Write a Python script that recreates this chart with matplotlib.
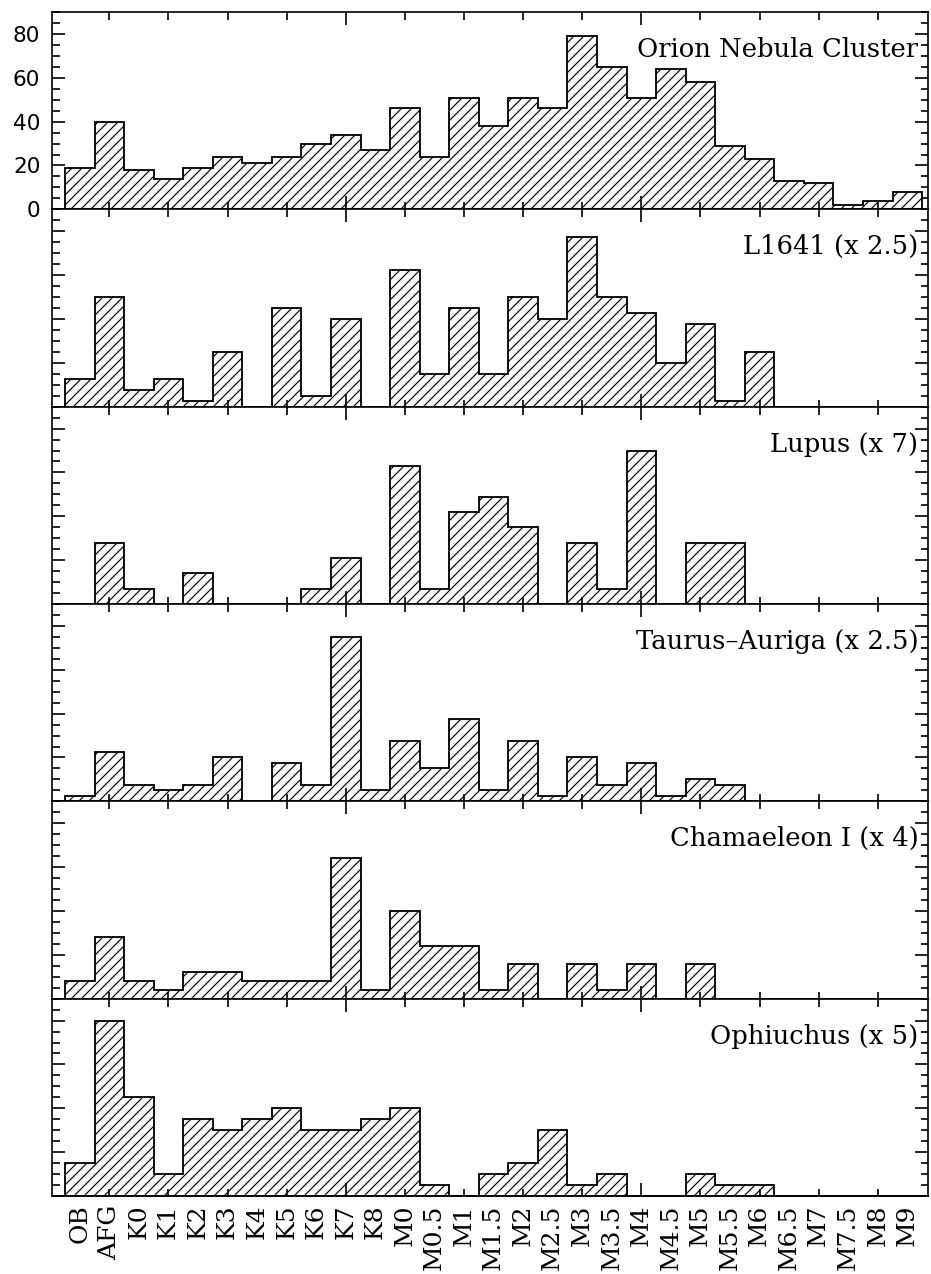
import numpy as np
import matplotlib
matplotlib.use('Agg')
import matplotlib.pyplot as plt
from matplotlib.ticker import FixedLocator, MultipleLocator

#spectral type bins, earliest to latest
spectral_types = ['OB', 'AFG', 'K0', 'K1', 'K2', 'K3', 'K4', 'K5', 'K6', 'K7', 'K8',
                  'M0', 'M0.5', 'M1', 'M1.5', 'M2', 'M2.5', 'M3', 'M3.5', 'M4', 'M4.5',
                  'M5', 'M5.5', 'M6', 'M6.5', 'M7', 'M7.5', 'M8', 'M9']

#number of stars per bin in each region
onc_counts = [19, 40, 18, 14, 19, 24, 21, 24, 30, 34, 27, 46, 24, 51, 38, 51, 46,
              79, 65, 51, 64, 58, 29, 23, 13, 12, 2, 4, 8]
l1641_counts = [5, 20, 3, 5, 1, 10, 0, 18, 2, 16, 0, 25, 6, 18, 6, 20, 16,
                31, 20, 17, 8, 15, 1, 10, 0, 0, 0, 0, 0]
lupus_counts = [0, 4, 1, 0, 2, 0, 0, 0, 1, 3, 0, 9, 1, 6, 7, 5, 0,
                4, 1, 10, 0, 4, 4, 0, 0, 0, 0, 0, 0]
taurus_counts = [1, 9, 3, 2, 3, 8, 0, 7, 3, 30, 2, 11, 6, 15, 2, 11, 1,
                 8, 3, 7, 1, 4, 3, 0, 0, 0, 0, 0, 0]
cham_counts = [2, 7, 2, 1, 3, 3, 2, 2, 2, 16, 1, 10, 6, 6, 1, 4, 0,
               4, 1, 4, 0, 4, 0, 0, 0, 0, 0, 0, 0]
oph_counts = [3, 16, 9, 2, 7, 6, 7, 8, 6, 6, 7, 8, 1, 0, 2, 3, 6,
              1, 2, 0, 0, 2, 1, 1, 0, 0, 0, 0, 0]

region_names = ['Orion Nebula Cluster', 'L1641', 'Lupus', 'Taurus\u2013Auriga',
                'Chamaeleon I', 'Ophiuchus']
region_scales = [1, 2.5, 7, 2.5, 4, 5]
region_counts = [onc_counts, l1641_counts, lupus_counts, taurus_counts,
                 cham_counts, oph_counts]

plt.rcParams['hatch.linewidth'] = 0.7
plt.rcParams['axes.linewidth'] = 1.0

fig, axes = plt.subplots(6, 1, sharex=True, figsize=(931 / 120, 1274 / 120), dpi=120)
fig.subplots_adjust(left=52 / 931, right=928 / 931, top=1 - 12 / 1274,
                    bottom=1 - 1196 / 1274, hspace=0)

edges = np.arange(len(spectral_types) + 1)
centers = edges[:-1] + 0.5
#ticks every second bin, long ones at K7 and M4
long_ticks = [centers[9], centers[19]]
short_ticks = [c for i, c in enumerate(centers) if i % 2 == 1 and i not in (9, 19)]

for ax, name, counts, scale in zip(axes, region_names, region_counts, region_scales):
    heights = np.array(counts) * scale
    ax.stairs(heights, edges, baseline=0, fill=True, facecolor='none',
              edgecolor='black', hatch='////', linewidth=1.1)
    ax.set_xlim(-0.44, 29.2)
    ax.set_ylim(0, 90)
    ax.yaxis.set_major_locator(MultipleLocator(20))
    ax.yaxis.set_minor_locator(MultipleLocator(5))
    ax.xaxis.set_major_locator(FixedLocator(long_ticks))
    ax.xaxis.set_minor_locator(FixedLocator(short_ticks))
    ax.tick_params(which='both', direction='in', top=True, right=True, width=1,
                   labelbottom=False, labelleft=False)
    ax.tick_params(which='major', length=8)
    ax.tick_params(which='minor', length=4.5)

    if scale == 1:
        label = name
    else:
        label = '{} (x {:g})'.format(name, scale)
    ax.text(0.989, 0.81, label, transform=ax.transAxes, ha='right', va='center',
            fontsize=15.5, family='DejaVu Serif')

#only the top panel carries the count scale
axes[0].tick_params(axis='y', labelleft=True, labelsize=13, pad=7)

#spectral type names under the bottom panel
names_axis = axes[-1].secondary_xaxis('bottom')
names_axis.set_xticks(centers, labels=spectral_types, rotation=90,
                      family='DejaVu Serif', fontsize=15)
names_axis.tick_params(length=0, pad=5)

fig.savefig('out.png', dpi=120)
